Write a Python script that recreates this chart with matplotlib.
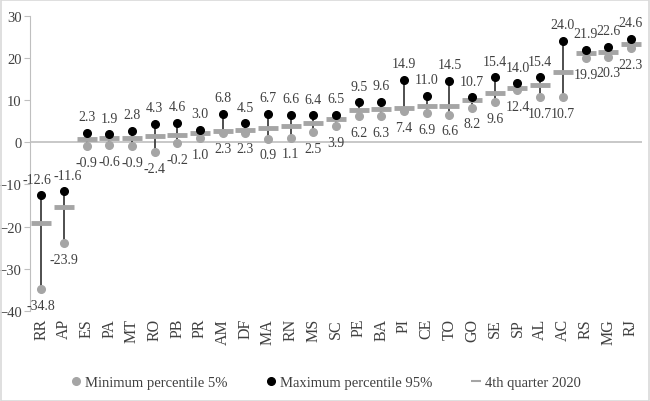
import matplotlib

matplotlib.use("Agg")
import matplotlib.pyplot as plt
from matplotlib.lines import Line2D

states = ["RR", "AP", "ES", "PA", "MT", "RO", "PB", "PR", "AM", "DF", "MA", "RN", "MS",
          "SC", "PE", "BA", "PI", "CE", "TO", "GO", "SE", "SP", "AL", "AC", "RS", "MG", "RJ"]
p5 = [-34.8, -23.9, -0.9, -0.6, -0.9, -2.4, -0.2, 1.0, 2.3, 2.3, 0.9, 1.1, 2.5,
      3.9, 6.2, 6.3, 7.4, 6.9, 6.6, 8.2, 9.6, 12.4, 10.7, 10.7, 19.9, 20.3, 22.3]
p95 = [-12.6, -11.6, 2.3, 1.9, 2.8, 4.3, 4.6, 3.0, 6.8, 4.5, 6.7, 6.6, 6.4,
       6.5, 9.5, 9.6, 14.9, 11.0, 14.5, 10.7, 15.4, 14.0, 15.4, 24.0, 21.9, 22.6, 24.6]
q4_2020 = [-19.2, -15.3, 0.8, 1.1, 1.0, 1.6, 1.7, 2.1, 2.8, 3.0, 3.4, 3.9, 4.5,
           5.5, 7.6, 7.9, 8.1, 8.6, 8.7, 10.0, 11.6, 13.0, 13.6, 16.7, 21.2, 21.4, 23.4]

plt.rcParams["font.family"] = ["Liberation Serif", "DejaVu Serif"]
plt.rcParams["font.size"] = 10

gray = "#a5a5a5"
fig = plt.figure(figsize=(6.5, 4.02), dpi=100)
fig.patches.append(plt.Rectangle((0.001, 0.001), 0.997, 0.996, transform=fig.transFigure,
                                 fill=False, edgecolor="#d9d9d9", linewidth=1.2))
ax = fig.add_axes([0.046, 0.224, 0.942, 0.734])

x = range(len(states))
ax.vlines(x, p5, p95, color="#404040", linewidth=1.3, zorder=1)
ax.plot(x, q4_2020, linestyle="none", marker="_", markersize=14, markeredgewidth=3.5,
        color=gray, zorder=2)
ax.plot(x, p5, linestyle="none", marker="o", markersize=5.5, color=gray, zorder=3)
ax.plot(x, p95, linestyle="none", marker="o", markersize=5.5, color="black", zorder=3)

# the first two top labels collide, nudge them apart like the original
nudge = {0: -3, 1: 3}
for i in x:
    ax.annotate(f"{p95[i]:.1f}", (i, p95[i]), xytext=(nudge.get(i, 0), 7),
                textcoords="offset points", ha="center", va="bottom", color="#404040")
    ax.annotate(f"{p5[i]:.1f}", (i, p5[i]), xytext=(0, -7), textcoords="offset points",
                ha="center", va="top", color="#404040")

ax.axhline(0, color="#bfbfbf", linewidth=1.2, zorder=0)
ax.set_ylim(-40, 30)
ax.set_xlim(-0.5, len(states) - 0.5)
ax.set_yticks(range(-40, 31, 10))
ax.set_xticks(list(x))
ax.set_xticklabels(states, rotation=90, color="#404040", fontsize=11.5)
ax.tick_params(axis="x", length=0, pad=5)
ax.tick_params(axis="y", length=4, color="#bfbfbf", colors="#404040", pad=2, labelsize=10.5)
for side in ("top", "right", "bottom"):
    ax.spines[side].set_visible(False)
ax.spines["left"].set_color("#bfbfbf")

handles = [
    Line2D([], [], linestyle="none", marker="o", markersize=5.5, color=gray),
    Line2D([], [], linestyle="none", marker="o", markersize=5.5, color="black"),
    Line2D([], [], linestyle="none", marker="_", markersize=7, markeredgewidth=1.5, color=gray),
]
labels = ["Minimum percentile 5%", "Maximum percentile 95%", "4th quarter 2020"]
fig.legend(handles, labels, loc="center", bbox_to_anchor=(0.5, 0.047), ncol=3, frameon=False,
           handletextpad=0.1, columnspacing=2.5, handlelength=1.0, fontsize=10.5,
           labelcolor="#404040")

fig.savefig("out.png", dpi=100)
plt.close(fig)
